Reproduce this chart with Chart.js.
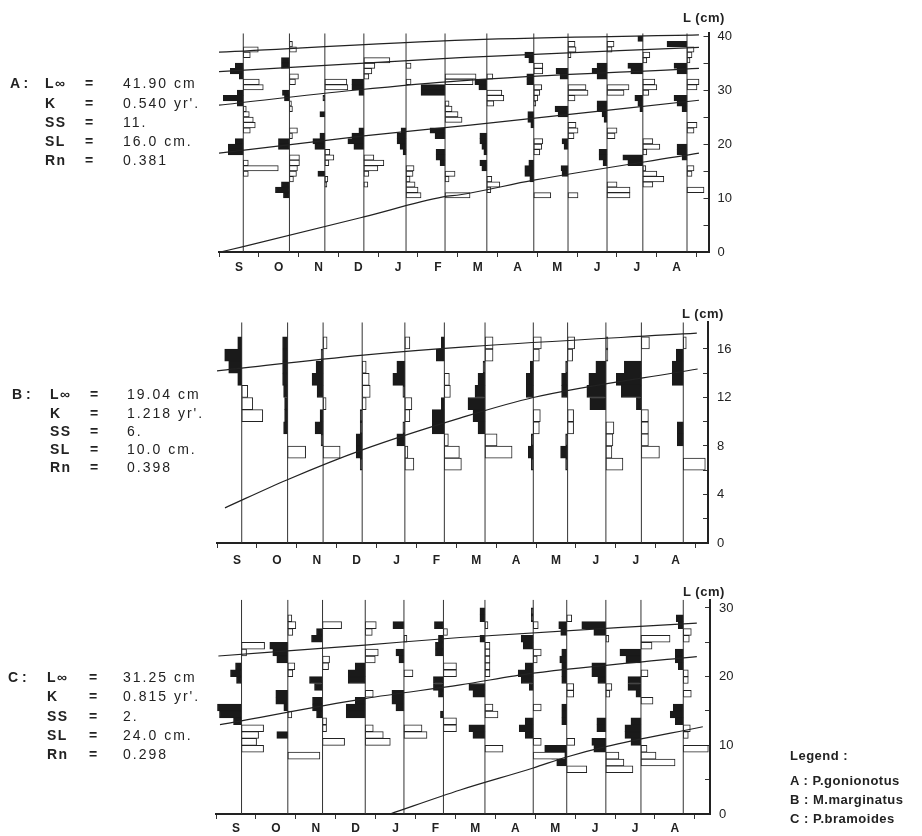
<!DOCTYPE html>
<html lang="en">
<head>
  <meta charset="UTF-8" />
  <title>Growth curves - restructured length frequencies</title>
  <script src="https://cdn.jsdelivr.net/npm/chart.js@4.4.1/dist/chart.umd.min.js"></script>
  <style>
    body { margin: 0; background: #fff; }
    #page {
      position: relative;
      width: 922px;
      height: 836px;
      overflow: hidden;
      background: #fff;
      font-family: 'Liberation Sans', Arial, sans-serif;
      color: #222;
    }
    #page canvas { position: absolute; left: 0; }
    .t { position: absolute; white-space: nowrap; line-height: 1; }
    .tag { font-weight: bold; font-size: 14px; }
    .lab { font-weight: bold; font-size: 14px; letter-spacing: 1.5px; }
    .eq { font-weight: bold; font-size: 14px; }
    .val { font-size: 14px; letter-spacing: 2px; }
    .unit { font-size: 13px; font-weight: bold; letter-spacing: 0.5px; }
    .leg { font-size: 13px; font-weight: bold; letter-spacing: 0.5px; }
  </style>
</head>
<body>
  <div id="page">
    <canvas id="chartA" width="922" height="290" style="top:0px"></canvas>
    <canvas id="chartB" width="922" height="280" style="top:290px"></canvas>
    <canvas id="chartC" width="922" height="266" style="top:570px"></canvas>
  </div>

  <script>
    // ---- data ----
    const MONTHS = ['S', 'O', 'N', 'D', 'J', 'F', 'M', 'A', 'M', 'J', 'J', 'A'];
    const MONTH_TICKS = [0, 1, 2, 3, 4, 5, 6, 7, 8, 9, 10, 11, 12];
    const PARAM_NAMES = ['L\u221e', 'K', 'SS', 'SL', 'Rn'];
    const LEGEND = ['Legend :', 'A : P.gonionotus', 'B : M.marginatus', 'C : P.bramoides'];

    // panel A : P.gonionotus
    const A_PARAMS = ['41.90 cm', "0.540 yr'.", '11.', '16.0 cm.', '0.381'];
    const A_Y_TICKS = [0, 5, 10, 15, 20, 25, 30, 35, 40];
    const A_Y_LABELS = [0, 10, 20, 30, 40];
    // sampling dates, in months from 1 September
    const A_SAMPLES = [0.61, 1.77, 2.66, 3.64, 4.70, 5.68, 6.73, 7.91, 8.77, 9.75, 10.65, 11.76];
    // [length class mid (cm), restructured frequency] ; negative = black peak, positive = white trough
    const A_HIST = [
      [[37.5,15],[36.5,7],[34.5,-8],[33.5,-13],[32.5,-4],[31.5,16],[30.5,20],[29.5,-6],[28.5,-20],[27.5,-6],[26.5,3],[25.5,6],[24.5,10],[23.5,12],[22.5,7],[20.5,-8],[19.5,-15],[18.5,-15],[16.5,5],[15.5,35],[14.5,5]],
      [[38.5,3],[37.5,7],[35.5,-8],[34.5,-8],[32.5,9],[31.5,6],[29.5,-7],[28.5,-5],[27.5,2],[26.5,3],[22.5,8],[21.5,3],[20.5,-11],[19.5,-11],[17.5,10],[16.5,10],[15.5,8],[14.5,7],[13.5,4],[12.5,-8],[11.5,-14],[10.5,-6]],
      [[31.5,22],[30.5,23],[28.5,-2],[25.5,-5],[21.5,-5],[20.5,-12],[19.5,-10],[18.5,5],[17.5,9],[16.5,4],[14.5,-7],[13.5,3],[12.5,2]],
      [[35.5,26],[34.5,11],[33.5,8],[32.5,5],[31.5,-12],[30.5,-12],[29.5,-5],[22.5,-5],[21.5,-12],[20.5,-16],[19.5,-10],[17.5,10],[16.5,20],[15.5,14],[14.5,5],[12.5,4]],
      [[34.5,5],[31.5,5],[22.5,-5],[21.5,-9],[20.5,-9],[19.5,-6],[18.5,-3],[15.5,8],[14.5,7],[13.5,4],[12.5,9],[11.5,12],[10.5,15]],
      [[32.5,31],[31.5,28],[30.5,-24],[29.5,-24],[27.5,4],[26.5,7],[25.5,13],[24.5,17],[22.5,-15],[21.5,-10],[18.5,-9],[17.5,-9],[16.5,-5],[14.5,10],[13.5,4],[10.5,25]],
      [[32.5,6],[31.5,-12],[30.5,-8],[29.5,15],[28.5,17],[27.5,7],[21.5,-7],[20.5,-7],[19.5,-5],[18.5,-3],[16.5,-7],[15.5,-5],[13.5,5],[12.5,13],[11.5,4]],
      [[36.5,-9],[35.5,-5],[34.5,9],[33.5,9],[32.5,-7],[31.5,-7],[30.5,8],[29.5,6],[28.5,4],[27.5,2],[25.5,-6],[24.5,-6],[23.5,-3],[20.5,9],[19.5,8],[18.5,6],[16.5,-5],[15.5,-9],[14.5,-9],[13.5,-4],[10.5,17]],
      [[38.5,7],[37.5,8],[36.5,3],[33.5,-12],[32.5,-8],[30.5,18],[29.5,20],[28.5,7],[26.5,-13],[25.5,-10],[23.5,8],[22.5,10],[21.5,6],[20.5,-6],[19.5,-4],[15.5,-7],[14.5,-6],[10.5,10]],
      [[38.5,7],[37.5,5],[34.5,-10],[33.5,-15],[32.5,-10],[30.5,22],[29.5,17],[27.5,-10],[26.5,-10],[25.5,-5],[24.5,-3],[22.5,10],[21.5,8],[18.5,-8],[17.5,-8],[16.5,-4],[12.5,10],[11.5,23],[10.5,23]],
      [[39.5,-5],[36.5,7],[35.5,4],[34.5,-15],[33.5,-12],[31.5,12],[30.5,14],[29.5,6],[28.5,-8],[27.5,-5],[26.5,-3],[20.5,10],[19.5,17],[18.5,4],[17.5,-20],[16.5,-15],[15.5,3],[14.5,14],[13.5,21],[12.5,10]],
      [[38.5,-20],[37.5,7],[36.5,5],[35.5,3],[34.5,-13],[33.5,-10],[31.5,12],[30.5,10],[28.5,-13],[27.5,-10],[26.5,-5],[23.5,10],[22.5,7],[19.5,-10],[18.5,-10],[17.5,-5],[15.5,7],[14.5,5],[11.5,17]]
    ];
    const A_CURVES = [
      [[0, 37.0], [6.3, 39.3], [12.06, 40.2]],
      [[0, 33.4], [6.06, 36.0], [12.06, 37.9]],
      [[0, 27.2], [3.46, 30.0], [6.06, 31.7], [12.06, 34.0]],
      [[0, 18.3], [3.64, 21.5], [6.31, 23.5], [12.06, 28.1]],
      [[0.03, 0], [0.61, 1.0], [3.64, 6.5], [5.63, 10.2], [6.06, 10.6], [7.91, 13.3], [12.06, 18.3]]
    ];

    // panel B : M.marginatus
    const B_PARAMS = ['19.04 cm', "1.218 yr'.", '6.', '10.0 cm.', '0.398'];
    const B_Y_TICKS = [0, 2, 4, 6, 8, 10, 12, 14, 16];
    const B_Y_LABELS = [0, 4, 8, 12, 16];
    const B_SAMPLES = [0.62, 1.77, 2.66, 3.64, 4.71, 5.70, 6.72, 7.93, 8.79, 9.75, 10.64, 11.69];
    const B_HIST = [
      [[16.5,-4],[15.5,-17],[14.5,-13],[13.5,-4],[12.5,6],[11.5,11],[10.5,21]],
      [[16.5,-5],[15.5,-5],[14.5,-5],[13.5,-5],[12.5,-4],[11.5,-3],[10.5,-3],[9.5,-4],[7.5,18]],
      [[16.5,4],[15.5,-2],[14.5,-7],[13.5,-11],[12.5,-6],[11.5,3],[10.5,-3],[9.5,-8],[8.5,-2],[7.5,17]],
      [[14.5,4],[13.5,7],[12.5,8],[11.5,4],[10.5,-2],[9.5,-2],[8.5,-6],[7.5,-6],[6.5,-2]],
      [[16.5,5],[14.5,-8],[13.5,-12],[12.5,-2],[11.5,7],[10.5,5],[9.5,-2],[8.5,-8],[7.5,3],[6.5,9]],
      [[16.5,-3],[15.5,-8],[13.5,5],[12.5,6],[11.5,-3],[10.5,-12],[9.5,-12],[8.5,4],[7.5,15],[6.5,17]],
      [[16.5,8],[15.5,8],[14.5,-2],[13.5,-7],[12.5,-10],[11.5,-17],[10.5,-12],[9.5,-7],[8.5,12],[7.5,27]],
      [[16.5,8],[15.5,6],[14.5,-3],[13.5,-7],[12.5,-7],[10.5,7],[9.5,6],[8.5,-2],[7.5,-5],[6.5,-2]],
      [[16.5,7],[15.5,5],[14.5,-2],[13.5,-6],[12.5,-6],[10.5,6],[9.5,6],[8.5,-2],[7.5,-7],[6.5,-2]],
      [[16.5,2],[15.5,2],[14.5,-10],[13.5,-17],[12.5,-19],[11.5,-16],[9.5,8],[8.5,7],[7.5,6],[6.5,17]],
      [[16.5,8],[14.5,-17],[13.5,-25],[12.5,-20],[11.5,-5],[10.5,7],[9.5,7],[8.5,7],[7.5,18]],
      [[16.5,3],[15.5,-7],[14.5,-11],[13.5,-11],[9.5,-6],[8.5,-6],[6.5,22]]
    ];
    const B_CURVES = [
      [[0, 14.2], [3.67, 15.5], [6.32, 16.2], [12.03, 17.3]],
      [[0.2, 2.9], [1.75, 5.2], [3.66, 7.7], [6.09, 10.3], [7.93, 12.0], [12.05, 14.35]]
    ];

    // panel C : P.bramoides
    const C_PARAMS = ['31.25 cm', "0.815 yr'.", '2.', '24.0 cm.', '0.298'];
    const C_Y_TICKS = [0, 5, 10, 15, 20, 25, 30];
    const C_Y_LABELS = [0, 10, 20, 30];
    const C_SAMPLES = [0.64, 1.80, 2.67, 3.74, 4.71, 5.70, 6.74, 7.95, 8.79, 9.77, 10.65, 11.71];
    const C_HIST = [
      [[24.5,23],[23.5,5],[21.5,-6],[20.5,-11],[19.5,-5],[15.5,-24],[14.5,-22],[13.5,-8],[12.5,22],[11.5,17],[10.5,15],[9.5,22]],
      [[28.5,4],[27.5,8],[26.5,5],[24.5,-18],[23.5,-15],[22.5,-11],[21.5,7],[20.5,5],[17.5,-12],[16.5,-12],[15.5,-4],[14.5,4],[11.5,-11],[8.5,32]],
      [[27.5,19],[26.5,-6],[25.5,-11],[22.5,7],[21.5,6],[19.5,-13],[18.5,-8],[16.5,-10],[15.5,-10],[14.5,-6],[13.5,4],[12.5,4],[10.5,22]],
      [[27.5,11],[26.5,7],[23.5,13],[22.5,10],[21.5,-10],[20.5,-17],[19.5,-17],[17.5,8],[16.5,-10],[15.5,-19],[14.5,-19],[12.5,8],[11.5,18],[10.5,25]],
      [[27.5,-11],[25.5,3],[23.5,-8],[22.5,-5],[20.5,9],[17.5,-12],[16.5,-12],[15.5,-8],[12.5,18],[11.5,23]],
      [[27.5,-9],[26.5,4],[25.5,-5],[24.5,-8],[23.5,-8],[21.5,13],[20.5,13],[19.5,-10],[18.5,-10],[17.5,-5],[14.5,-3],[13.5,13],[12.5,13]],
      [[29.5,-5],[28.5,-5],[27.5,3],[25.5,-5],[24.5,5],[23.5,5],[22.5,5],[21.5,5],[20.5,5],[18.5,-16],[17.5,-12],[15.5,8],[14.5,13],[12.5,-16],[11.5,-12],[9.5,18]],
      [[29.5,-2],[28.5,-2],[27.5,5],[25.5,-12],[24.5,-10],[23.5,8],[22.5,4],[21.5,-8],[20.5,-15],[19.5,-12],[18.5,-4],[15.5,8],[13.5,-8],[12.5,-14],[11.5,-8],[10.5,8],[8.5,32]],
      [[28.5,5],[27.5,-8],[26.5,-6],[23.5,-5],[22.5,-7],[21.5,-5],[20.5,-5],[19.5,-5],[18.5,7],[17.5,7],[15.5,-5],[14.5,-5],[13.5,-5],[10.5,8],[9.5,-22],[8.5,-15],[7.5,-10],[6.5,20]],
      [[27.5,-24],[26.5,-12],[25.5,3],[21.5,-14],[20.5,-14],[19.5,-8],[18.5,6],[17.5,4],[13.5,-9],[12.5,-9],[10.5,-14],[9.5,-12],[8.5,13],[7.5,18],[6.5,27]],
      [[25.5,29],[24.5,11],[23.5,-21],[22.5,-15],[20.5,7],[19.5,-13],[18.5,-13],[17.5,-5],[16.5,12],[13.5,-10],[12.5,-16],[11.5,-16],[10.5,-10],[9.5,6],[8.5,15],[7.5,34]],
      [[28.5,-7],[27.5,-5],[26.5,8],[25.5,6],[23.5,-8],[22.5,-8],[21.5,-5],[20.5,5],[19.5,5],[17.5,8],[15.5,-10],[14.5,-13],[13.5,-8],[12.5,7],[11.5,5],[9.5,25]]
    ];
    const C_CURVES = [
      [[0.06, 23.0], [3.73, 24.6], [6.12, 25.7], [12.05, 27.8]],
      [[0.1, 13.0], [3.73, 16.8], [6.12, 18.8], [7.95, 20.5], [12.05, 22.9]],
      [[4.36, 0], [6.12, 3.5], [7.95, 6.7], [8.79, 8.3], [9.77, 9.8], [12.2, 12.7]]
    ];

    // ---- drawing ----
    const INK = '#222';
    const FONT = "'Liberation Sans', Arial, sans-serif";
    const BAR_SCALE = 1 / 39.8; // months of x axis per frequency unit

    const panels = [
      { id: 'chartA', samples: A_SAMPLES, hist: A_HIST, curves: A_CURVES, yTicks: A_Y_TICKS, yLabels: A_Y_LABELS,
        ymax: 40.5, xmax: 12.3, pad: { left: 219, right: 173.5, top: 33.3, bottom: 16 }, labelPad: 2 },
      { id: 'chartB', samples: B_SAMPLES, hist: B_HIST, curves: B_CURVES, yTicks: B_Y_TICKS, yLabels: B_Y_LABELS,
        ymax: 18.2, xmax: 12.31, pad: { left: 217, right: 174, top: 32.3, bottom: 5 }, labelPad: 4 },
      { id: 'chartC', samples: C_SAMPLES, hist: C_HIST, curves: C_CURVES, yTicks: C_Y_TICKS, yLabels: C_Y_LABELS,
        ymax: 31.2, xmax: 12.38, pad: { left: 216, right: 172, top: 29.7, bottom: 0 }, labelPad: 1 }
    ];

    function buildPanel(p) {
      const white = [], black = [];
      p.samples.forEach((m, i) => {
        p.hist[i].forEach(([len, f]) => {
          (f < 0 ? black : white).push({ y: len, x: [m, m + f * BAR_SCALE] });
        });
      });

      const baseLines = [];
      p.samples.forEach(m => {
        baseLines.push({ x: m, y: 0 }, { x: m, y: p.ymax }, { x: m, y: null });
      });

      const curveSets = p.curves.map(c => ({
        type: 'line',
        data: c.map(([x, y]) => ({ x, y })),
        borderColor: INK,
        borderWidth: 1.2,
        pointRadius: 0,
        cubicInterpolationMode: 'monotone',
        xAxisID: 'x',
        yAxisID: 'y'
      }));

      const barStyle = {
        type: 'bar',
        indexAxis: 'y',
        grouped: false,
        barPercentage: 1,
        categoryPercentage: 1,
        borderSkipped: false,
        borderWidth: 1,
        clip: false,
        xAxisID: 'x',
        yAxisID: 'y'
      };

      new Chart(document.getElementById(p.id), {
        type: 'line',
        data: {
          datasets: [
            ...curveSets,
            { type: 'line', data: baseLines, borderColor: '#333', borderWidth: 1, pointRadius: 0, spanGaps: false, xAxisID: 'x', yAxisID: 'y' },
            { ...barStyle, data: white, backgroundColor: '#fff', borderColor: INK },
            { ...barStyle, data: black, backgroundColor: '#1a1a1a', borderColor: '#1a1a1a' }
          ]
        },
        options: {
          responsive: false,
          animation: false,
          devicePixelRatio: 1,
          events: [],
          layout: { padding: p.pad },
          plugins: { legend: { display: false }, tooltip: { enabled: false } },
          scales: {
            x: {
              type: 'linear', position: 'bottom', weight: 0, offset: false,
              min: 0, max: p.xmax,
              afterBuildTicks: s => { s.ticks = MONTH_TICKS.map(v => ({ value: v })); },
              ticks: { display: false },
              grid: { offset: false, drawOnChartArea: false, drawTicks: true, tickLength: 5, color: '#333', tickColor: '#333' },
              border: { display: true, color: INK, width: 2 },
              afterFit: s => { s.height = 6; }
            },
            xm: {
              type: 'linear', position: 'bottom', weight: 1, offset: false,
              min: 0, max: p.xmax,
              afterBuildTicks: s => { s.ticks = MONTHS.map((m, i) => ({ value: i + 0.5 })); },
              ticks: {
                callback: (v, i) => MONTHS[i],
                autoSkip: false, maxRotation: 0, padding: p.labelPad,
                color: INK, font: { family: FONT, size: 12, weight: 'bold' }
              },
              grid: { display: false, drawTicks: false },
              border: { display: false },
              afterFit: s => { s.height = 16; }
            },
            y: {
              type: 'linear', position: 'right', offset: false,
              min: 0, max: p.ymax,
              afterBuildTicks: s => { s.ticks = p.yTicks.map(v => ({ value: v })); },
              ticks: {
                callback: v => (p.yLabels.includes(v) ? String(v) : ''),
                autoSkip: false, padding: 14,
                color: INK, font: { family: FONT, size: 13 }
              },
              // negative tick length puts the tick marks on the inner side of the axis, as in the figure
              grid: { offset: false, drawOnChartArea: false, tickLength: -5, color: '#333', tickColor: '#333' },
              border: { display: true, color: INK, width: 2 },
              afterFit: s => { s.width = 40; }
            }
          }
        }
      });
    }

    panels.forEach(buildPanel);

    // ---- text around the charts ----
    const page = document.getElementById('page');
    function addText(cls, txt, x, cy, size) {
      const d = document.createElement('div');
      d.className = 't ' + cls;
      d.textContent = txt;
      d.style.left = x + 'px';
      d.style.top = (cy - size * 0.49) + 'px';
      page.appendChild(d);
    }

    const blocks = [
      { tag: 'A :', vals: A_PARAMS, x: [10, 45, 85, 123], rows: [83, 102.5, 121.5, 141, 160] },
      { tag: 'B :', vals: B_PARAMS, x: [12, 50, 90, 127], rows: [394, 413, 431, 449, 467] },
      { tag: 'C :', vals: C_PARAMS, x: [8, 47, 89, 123], rows: [677, 696, 716, 735, 754] }
    ];
    blocks.forEach(b => {
      addText('tag', b.tag, b.x[0], b.rows[0], 14);
      PARAM_NAMES.forEach((name, i) => {
        addText('lab', name, b.x[1], b.rows[i], 14);
        addText('eq', '=', b.x[2], b.rows[i], 14);
        addText('val', b.vals[i], b.x[3], b.rows[i], 14);
      });
    });

    addText('unit', 'L (cm)', 683, 17, 13);
    addText('unit', 'L (cm)', 682, 313, 13);
    addText('unit', 'L (cm)', 683, 591, 13);

    const legendRows = [755, 780, 799, 818];
    LEGEND.forEach((txt, i) => addText('leg', txt, 790, legendRows[i], 13));
  </script>
</body>
</html>
